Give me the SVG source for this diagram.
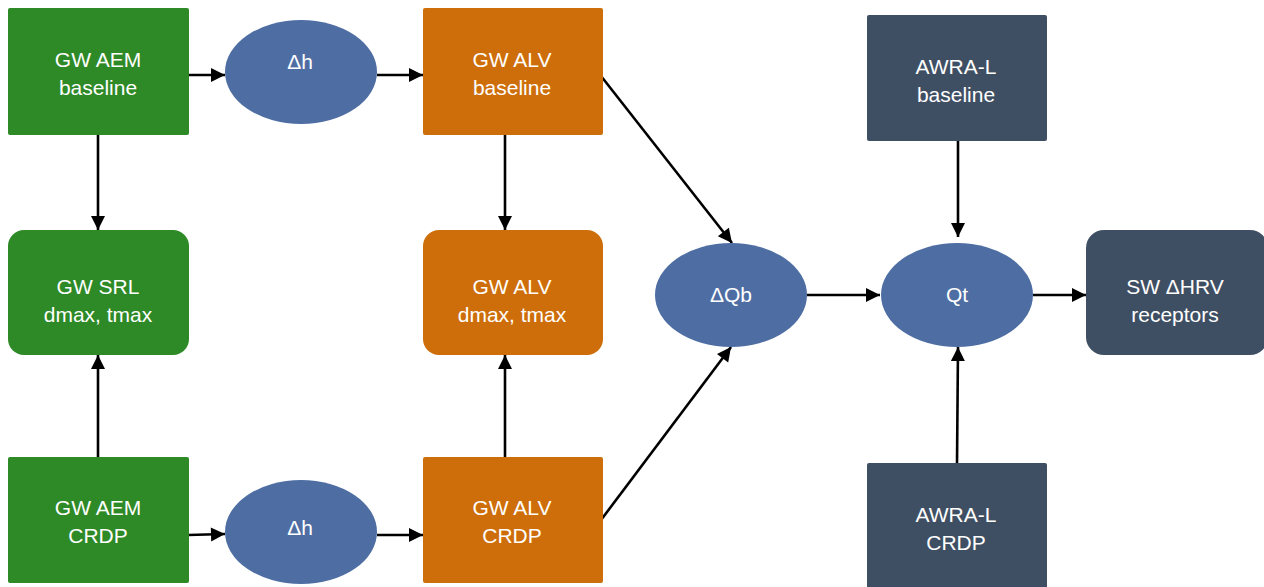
<svg xmlns="http://www.w3.org/2000/svg" width="1264" height="587" viewBox="0 0 1264 587">
<style>
.t{font-family:"Liberation Sans",Arial,sans-serif;font-size:21px;fill:#ffffff;text-anchor:middle}
.g{fill:#2E8927}
.o{fill:#CE6E0A}
.b{fill:#4E6EA3}
.d{fill:#3F4F63}
.c{stroke:#000;stroke-width:2.6;fill:none;marker-end:url(#ah)}
</style>
<defs>
<marker id="ah" markerUnits="userSpaceOnUse" markerWidth="16" markerHeight="16" viewBox="0 0 16 16" refX="15" refY="8" orient="auto">
<path d="M1,1 L15,8 L1,15 z" fill="#000"/>
</marker>
</defs>
<rect width="1264" height="587" fill="#fff"/>
<g id="connectors">
<line class="c" x1="188" y1="75" x2="225" y2="75"/>
<line class="c" x1="377" y1="75" x2="423" y2="75"/>
<line class="c" x1="98" y1="135" x2="98" y2="230"/>
<line class="c" x1="98" y1="458" x2="98" y2="355"/>
<line class="c" x1="188" y1="535" x2="225" y2="534"/>
<line class="c" x1="377" y1="535" x2="423" y2="535"/>
<line class="c" x1="505" y1="135" x2="505" y2="230"/>
<line class="c" x1="505" y1="458" x2="505" y2="355"/>
<line class="c" x1="601" y1="76" x2="732" y2="243"/>
<line class="c" x1="601" y1="520" x2="731" y2="347"/>
<line class="c" x1="807" y1="295" x2="880" y2="295"/>
<line class="c" x1="1033" y1="295" x2="1086" y2="295"/>
<line class="c" x1="958" y1="141" x2="958" y2="237"/>
<line class="c" x1="957" y1="464" x2="958" y2="347"/>
</g>
<g id="aem-baseline"><rect class="g" x="8" y="8" width="181" height="127" rx="2"/><text class="t" x="98" y="67">GW AEM</text><text class="t" x="98" y="95">baseline</text></g>
<g id="dh-top"><ellipse class="b" cx="301" cy="72" rx="76" ry="52"/><text class="t" x="300" y="69">Δh</text></g>
<g id="alv-baseline"><rect class="o" x="423" y="8" width="180" height="127" rx="2"/><text class="t" x="512" y="67">GW ALV</text><text class="t" x="512" y="95">baseline</text></g>
<g id="gw-srl"><rect class="g" x="8" y="230" width="181" height="125" rx="16"/><text class="t" x="98" y="294">GW SRL</text><text class="t" x="98" y="322">dmax, tmax</text></g>
<g id="alv-dmax"><rect class="o" x="423" y="230" width="180" height="125" rx="16"/><text class="t" x="512" y="294">GW ALV</text><text class="t" x="512" y="322">dmax, tmax</text></g>
<g id="aem-crdp"><rect class="g" x="8" y="457" width="181" height="126" rx="2"/><text class="t" x="98" y="515">GW AEM</text><text class="t" x="98" y="543">CRDP</text></g>
<g id="dh-bottom"><ellipse class="b" cx="301" cy="532" rx="76" ry="52"/><text class="t" x="300" y="535">Δh</text></g>
<g id="alv-crdp"><rect class="o" x="423" y="457" width="180" height="126" rx="2"/><text class="t" x="512" y="515">GW ALV</text><text class="t" x="512" y="543">CRDP</text></g>
<g id="dqb"><ellipse class="b" cx="731" cy="295" rx="76" ry="52"/><text class="t" x="731" y="302">ΔQb</text></g>
<g id="qt"><ellipse class="b" cx="957" cy="295" rx="76" ry="52"/><text class="t" x="957" y="302">Qt</text></g>
<g id="awra-baseline"><rect class="d" x="867" y="15" width="180" height="126" rx="2"/><text class="t" x="956" y="74">AWRA-L</text><text class="t" x="956" y="102">baseline</text></g>
<g id="awra-crdp"><rect class="d" x="867" y="463" width="180" height="130" rx="2"/><text class="t" x="956" y="522">AWRA-L</text><text class="t" x="956" y="550">CRDP</text></g>
<g id="sw-hrv"><rect class="d" x="1086" y="230" width="182" height="125" rx="18"/><text class="t" x="1175" y="294">SW ΔHRV</text><text class="t" x="1175" y="322">receptors</text></g>
</svg>
